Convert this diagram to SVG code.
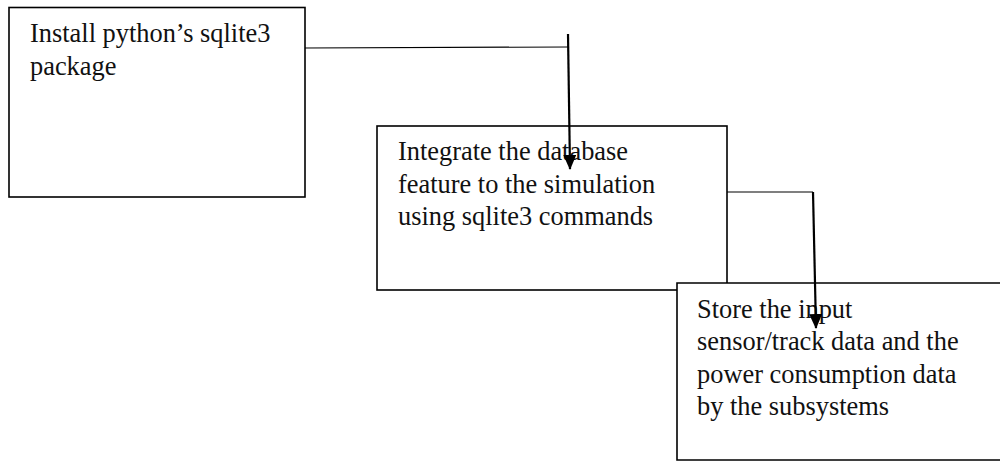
<svg xmlns="http://www.w3.org/2000/svg" width="1000" height="461" viewBox="0 0 1000 461">
<style>
.box{fill:#fff;stroke:#000;stroke-width:1.6}
.t{font-family:'Liberation Serif','Times New Roman',serif;font-size:26.4px;fill:#111}
.h{stroke:#000;stroke-width:1.2;fill:none}
.v{stroke:#000;stroke-width:2.2;fill:none;marker-end:url(#ah)}
</style>
<defs>
<marker id="ah" markerUnits="userSpaceOnUse" markerWidth="15" markerHeight="13" viewBox="0 0 15 13" refX="14" refY="6.5" orient="auto">
<path d="M0,0 L15,6.5 L0,13 Z" fill="#000"/>
</marker>
</defs>
<g id="node1">
<rect class="box" x="9" y="7.5" width="296" height="189.5"/>
<text class="t" x="30" y="42">Install python’s sqlite3</text>
<text class="t" x="30" y="75">package</text>
</g>
<g id="node2">
<rect class="box" x="377" y="126" width="350" height="164"/>
<text class="t" x="398" y="160">Integrate the database</text>
<text class="t" x="398" y="193">feature to the simulation</text>
<text class="t" x="398" y="225">using sqlite3 commands</text>
</g>
<g id="node3">
<path class="box" d="M1001,283 L677,283 L677,460 L1001,460"/>
<text class="t" x="697" y="318">Store the input</text>
<text class="t" x="697" y="350">sensor/track data and the</text>
<text class="t" x="697" y="383">power consumption data</text>
<text class="t" x="697" y="415">by the subsystems</text>
</g>
<g id="connectors">
<line class="h" x1="305" y1="48" x2="568" y2="47"/>
<line class="v" x1="568" y1="34" x2="570" y2="169"/>
<line class="h" x1="727" y1="192" x2="813" y2="192"/>
<line class="v" x1="813" y1="192" x2="816" y2="328"/>
</g>
</svg>
